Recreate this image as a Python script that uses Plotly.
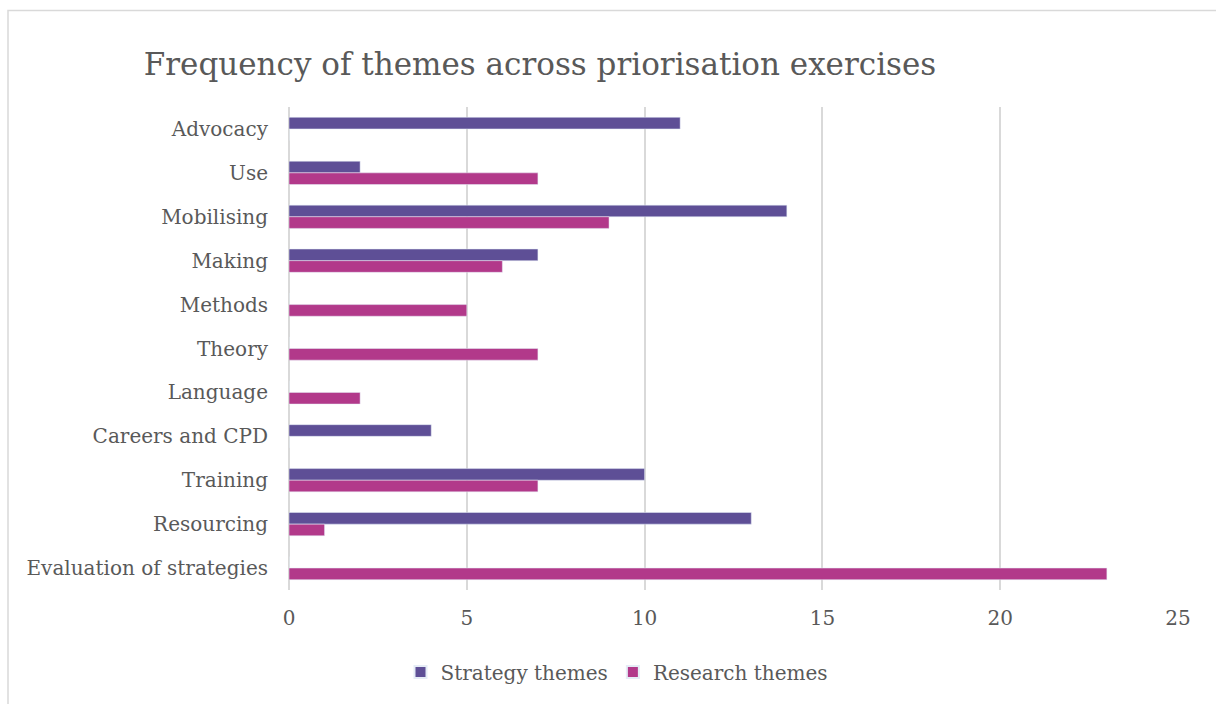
import plotly.graph_objects as go

categories = ["Advocacy", "Use", "Mobilising", "Making", "Methods", "Theory",
              "Language", "Careers and CPD", "Training", "Resourcing",
              "Evaluation of strategies"]
strategy_themes = [11, 2, 14, 7, 0, 0, 0, 4, 10, 13, 0]
research_themes = [0, 7, 9, 6, 5, 7, 2, 0, 7, 1, 23]
x_ticks = [0, 5, 10, 15, 20, 25]

W, H = 1216, 704
L, R, T, B = 289, 1178, 107, 590
FONT = "DejaVu Serif"
TXT = "#595959"

def px(xp):
    return (xp - L) / (R - L)

def py(yp):
    return (B - yp) / (B - T)

fig = go.Figure()
fig.add_trace(go.Bar(y=categories, x=strategy_themes, orientation="h",
                     name="Strategy themes", marker_color="#5E4F96"))
fig.add_trace(go.Bar(y=categories, x=research_themes, orientation="h",
                     name="Research themes", marker_color="#B2398A"))

fig.update_layout(
    width=W, height=H,
    margin=dict(l=L, r=W - R, t=T, b=H - B),
    paper_bgcolor="white", plot_bgcolor="white",
    barmode="group", bargap=0.47, bargroupgap=0,
    font=dict(family=FONT, color=TXT, size=20),
    title=dict(text="Frequency of themes across priorisation exercises",
               font=dict(family=FONT, size=31, color=TXT),
               xref="paper", x=px(540), xanchor="center",
               yref="container", y=1 - 64 / H, yanchor="middle"),
    xaxis=dict(range=[0, 25], tickvals=x_ticks, showgrid=True,
               gridcolor="#d9d9d9", gridwidth=1.5, zeroline=True,
               zerolinecolor="#d9d9d9", zerolinewidth=1.5, showline=False,
               ticks="", ticklabelstandoff=14,
               tickfont=dict(family=FONT, size=20, color=TXT)),
    yaxis=dict(autorange="reversed", showgrid=False, zeroline=False,
               showline=False, ticks="", ticklabelstandoff=20,
               tickfont=dict(family=FONT, size=20, color=TXT)),
    legend=dict(orientation="h", x=px(617), xanchor="center",
                y=py(672), yanchor="middle",
                font=dict(family=FONT, size=20, color=TXT),
                itemsizing="constant"),
    shapes=[dict(type="rect", xref="paper", yref="paper",
                 x0=px(8), x1=px(1260), y0=py(750), y1=py(10.5),
                 line=dict(color="#d9d9d9", width=1.5), layer="below")],
)

fig.write_html("out.html")
